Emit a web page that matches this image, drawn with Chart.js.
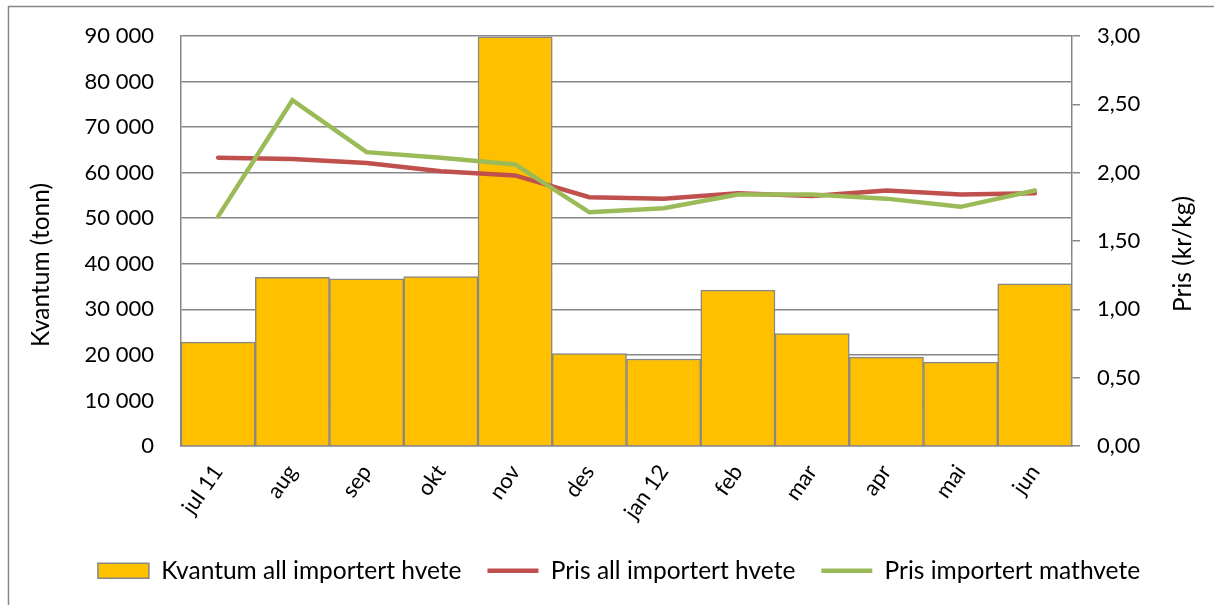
<!DOCTYPE html>
<html>
<head>
<meta charset="utf-8">
<script src="https://cdn.jsdelivr.net/npm/chart.js@4/dist/chart.umd.min.js"></script>
<style>
  body { margin: 0; background: #fff; }
  canvas { display: block; }
</style>
</head>
<body>
<canvas id="chart" width="1214" height="605"></canvas>
<script>
const months = ["jul 11", "aug", "sep", "okt", "nov", "des", "jan 12", "feb", "mar", "apr", "mai", "jun"];
const kvantum = [22800, 37000, 36700, 37200, 89800, 20300, 19100, 34200, 24700, 19500, 18400, 35600];
const prisAll = [2.11, 2.10, 2.07, 2.01, 1.98, 1.82, 1.81, 1.85, 1.83, 1.87, 1.84, 1.85];
const prisMat = [1.68, 2.53, 2.15, 2.11, 2.06, 1.71, 1.74, 1.84, 1.84, 1.81, 1.75, 1.87];
const leftTicks = { min: 0, max: 90000, step: 10000 };
const rightTicks = { min: 0, max: 3, step: 0.5 };

const gray = "#878787";
Chart.defaults.font.family = "Lato";
Chart.defaults.font.size = 22;
Chart.defaults.color = "#000";

// frame + rotated axis titles (both read bottom to top)
const frame = {
  id: "frame",
  beforeDraw(chart) {
    const ctx = chart.ctx;
    ctx.save();
    ctx.fillStyle = "#fff";
    ctx.fillRect(0, 0, chart.width, chart.height);
    ctx.strokeStyle = gray;
    ctx.lineWidth = 1.5;
    ctx.strokeRect(8.5, 6.5, 1400, 800);
    ctx.restore();
  },
  afterDraw(chart) {
    const ctx = chart.ctx;
    ctx.save();
    ctx.font = "24.5px Lato";
    ctx.fillStyle = "#000";
    ctx.textAlign = "center";
    ctx.textBaseline = "middle";
    [["Kvantum (tonn)", 41, 265], ["Pris (kr/kg)", 1183, 254]].forEach(([t, x, y]) => {
      ctx.save();
      ctx.translate(x, y);
      ctx.rotate(-Math.PI / 2);
      ctx.fillText(t, 0, 0);
      ctx.restore();
    });
    ctx.restore();
  }
};

const chart = new Chart(document.getElementById("chart"), {
  data: {
    labels: months,
    datasets: [
      {
        type: "bar",
        label: "Kvantum all importert hvete",
        data: kvantum,
        yAxisID: "y",
        backgroundColor: "#FFC000",
        borderColor: gray,
        borderWidth: 1.5,
        categoryPercentage: 1,
        barPercentage: 1,
        pointStyle: "rect",
        order: 3
      },
      {
        type: "line",
        label: "Pris all importert hvete",
        data: prisAll,
        yAxisID: "y1",
        borderColor: "#C0504D",
        backgroundColor: "#C0504D",
        borderWidth: 4.5,
        borderCapStyle: "round",
        pointRadius: 0,
        pointStyle: "line",
        tension: 0,
        order: 2
      },
      {
        type: "line",
        label: "Pris importert mathvete",
        data: prisMat,
        yAxisID: "y1",
        borderColor: "#9BBB59",
        backgroundColor: "#9BBB59",
        borderWidth: 4.5,
        borderCapStyle: "round",
        pointRadius: 0,
        pointStyle: "line",
        tension: 0,
        order: 1
      }
    ]
  },
  options: {
    responsive: false,
    animation: false,
    layout: { padding: { top: 36, left: 24, right: 0, bottom: 12 } },
    plugins: {
      tooltip: { enabled: false },
      legend: {
        position: "bottom",
        labels: {
          font: { size: 24.5 },
          usePointStyle: true,
          pointStyleWidth: 51,
          boxHeight: 15,
          padding: 26,
          sort: (a, b) => a.datasetIndex - b.datasetIndex
        }
      }
    },
    scales: {
      x: {
        grid: { drawOnChartArea: false, drawTicks: false },
        border: { display: true, color: gray, width: 1.5 },
        ticks: { minRotation: 55, maxRotation: 55, padding: 14 },
        afterFit(s) { s.height = 86.5; }
      },
      y: {
        position: "left",
        min: leftTicks.min,
        max: leftTicks.max,
        ticks: {
          stepSize: leftTicks.step,
          padding: 17,
          callback: v => String(v).replace(/\B(?=(\d{3})+(?!\d))/g, " ")
        },
        grid: { color: gray, lineWidth: 1.5, tickLength: 10, tickColor: "rgba(0,0,0,0)" },
        border: { display: true, color: gray, width: 1.5 },
        afterFit(s) { s.width = 157; }
      },
      y1: {
        position: "right",
        min: rightTicks.min,
        max: rightTicks.max,
        ticks: {
          stepSize: rightTicks.step,
          padding: 17,
          callback: v => v.toFixed(2).replace(".", ",")
        },
        grid: { drawOnChartArea: false, color: gray, lineWidth: 1.5, tickLength: 8 },
        border: { display: true, color: gray, width: 1.5 },
        afterFit(s) { s.width = 142; }
      }
    }
  },
  plugins: [frame]
});
</script>
</body>
</html>
